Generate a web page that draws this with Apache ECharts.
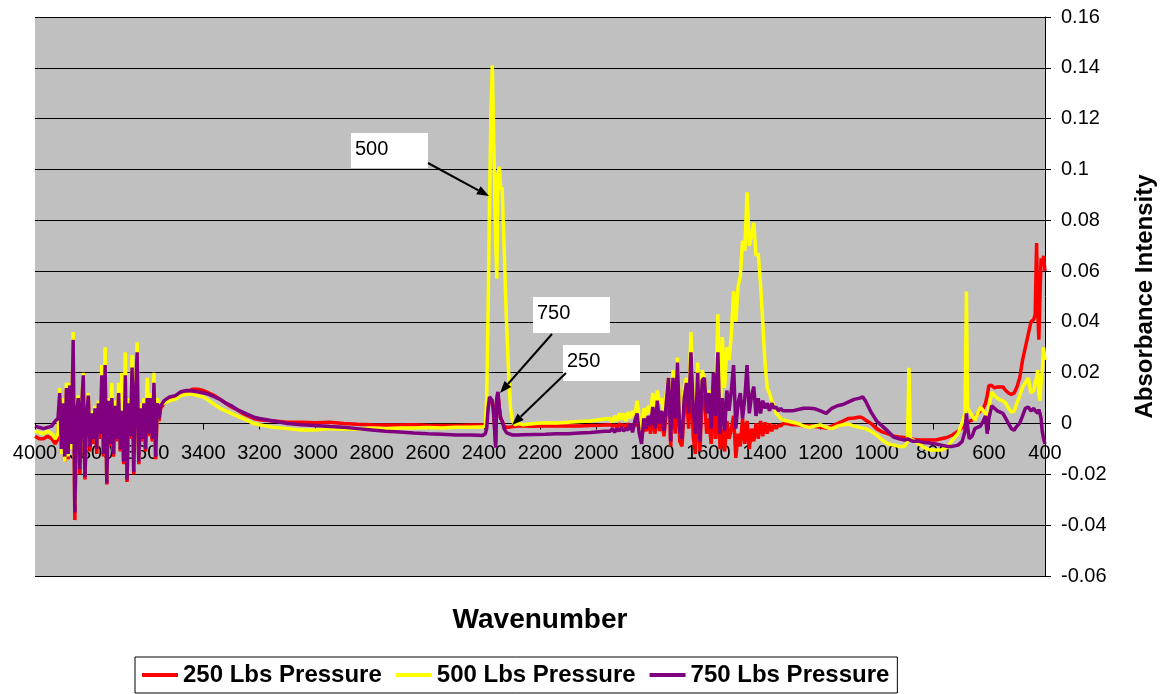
<!DOCTYPE html>
<html>
<head>
<meta charset="utf-8">
<script src="https://cdn.jsdelivr.net/npm/echarts@6/dist/echarts.min.js"></script>
<style>
html,body{margin:0;padding:0;background:#fff;}
#chart{width:1161px;height:694px;}
</style>
</head>
<body>
<div id="chart"></div>
<script>
// ---- Data (wavenumber grid, cm^-1, descending) ----
const wavenumbers = [
4000,3985,3970,3955,3940,3928,3918,
3912,3906,3900,3894,3888,3882,3876,3870,3864,3858,3852,3846,3840,3834,3828,3822,3816,3810,3804,3798,3792,3786,3780,3774,3768,3762,3756,3750,3744,3738,3732,3726,3720,3714,3708,3702,3696,3690,3684,3678,3672,3666,3660,3654,3648,3642,3636,3630,3624,3618,3612,3606,3600,3594,3588,3582,3576,3570,3564,3558,3552,
3540,3520,3500,3480,3460,3440,3420,3400,3380,3360,3340,3320,3300,3280,3260,3240,3220,3200,3150,3100,3050,3000,2950,2900,2850,2800,2750,2700,2650,2600,2550,2500,2450,2420,
2405,2395,2390,2385,2380,2375,2370,2366,2362,2358,2354,2350,2345,2340,2335,2328,2320,2312,2305,2298,2290,2280,
2260,2220,2180,2140,2100,2060,2020,1990,1970,
1950,1942,1934,1926,1918,1910,1902,1894,1886,1878,1870,1862,1854,1846,1838,1830,1822,1814,1806,1798,1790,1782,1774,1766,1758,1750,1742,1734,1726,1718,1710,1702,1694,1686,1678,1670,1662,1654,1646,1638,1630,1622,1614,1606,1598,1590,1582,1574,1566,1558,1550,1542,1534,1526,1518,1510,1502,1494,1486,1478,1470,1462,1454,1446,1438,1430,1422,1414,1406,1398,1390,1382,1374,1366,1358,1350,1342,1334,
1320,1300,1280,1260,1240,1220,1200,1180,1160,1140,1120,1100,1080,1060,1050,1040,1020,1000,980,960,940,920,900,890,885,880,870,850,830,810,790,770,750,730,710,695,685,680,676,670,660,650,640,630,620,612,606,600,590,580,570,560,550,540,530,520,510,500,490,480,470,460,450,440,435,430,426,422,418,414,410,405,400
];

const abs250 = [
-0.005,-0.006,-0.006,-0.005,-0.006,-0.008,-0.006,
0.011,-0.012,0.007,-0.015,0.013,-0.014,0.014,-0.010,0.032,-0.038,0.003,0.009,-0.020,0.005,0.018,-0.022,0.002,0.010,-0.011,0.003,-0.008,0.005,-0.012,0.007,-0.006,0.018,-0.013,0.022,-0.024,0.008,-0.009,0.009,-0.013,0.006,-0.007,0.011,-0.011,0.004,-0.016,0.018,-0.023,0.007,-0.006,0.021,-0.020,0.009,0.027,-0.016,0.005,-0.007,0.007,-0.011,0.009,-0.005,0.009,-0.007,0.015,-0.014,0.007,0.001,0.006,
0.008,0.0095,0.010,0.0115,0.0125,0.0135,0.0135,0.013,0.012,0.011,0.0095,0.008,0.0065,0.0055,0.004,0.003,0.002,0.0015,0.001,0.0005,0.0005,0.0003,0.0005,0.0,-0.0003,-0.0005,-0.0006,-0.0006,-0.0005,-0.0007,-0.0008,-0.0008,-0.0006,-0.0006,
-0.0006,-0.0005,0.0,0.006,0.010,0.0105,0.009,0.005,-0.001,-0.008,0.009,0.012,0.006,0.002,0.001,-0.001,-0.0015,-0.0015,-0.0015,-0.0012,-0.0012,-0.001,
-0.001,-0.0011,-0.001,-0.001,-0.001,-0.001,-0.0008,-0.0007,-0.0006,
-0.0005,-0.001,-0.0005,-0.0015,0.0,-0.001,-0.0005,-0.0015,0.0,-0.001,-0.0005,-0.001,0.002,-0.003,-0.006,0.0,-0.003,0.001,-0.004,0.003,-0.004,0.006,-0.003,0.002,-0.005,0.004,0.014,-0.009,0.014,-0.004,0.018,-0.007,-0.009,0.005,0.011,-0.002,0.022,-0.005,-0.012,0.014,-0.011,0.011,0.010,-0.004,0.002,-0.008,0.008,-0.006,0.010,-0.010,-0.002,-0.011,0.001,-0.006,-0.002,0.003,-0.0135,-0.004,-0.009,0.002,-0.008,0.001,-0.010,-0.002,-0.007,0.000,-0.006,0.001,-0.005,0.0005,-0.004,0.000,-0.003,-0.0005,-0.002,-0.0005,-0.001,0.000,
0.0,-0.0005,-0.0005,-0.001,-0.001,-0.0012,-0.0015,-0.0018,-0.001,0.0,0.001,0.002,0.0022,0.0026,0.0022,0.0014,0.0,-0.002,-0.0033,-0.004,-0.005,-0.0053,-0.0055,-0.006,-0.006,-0.006,-0.0062,-0.0065,-0.0065,-0.0065,-0.0065,-0.006,-0.0055,-0.0045,-0.003,-0.0015,-0.0005,0.0,0.0005,0.001,0.0014,0.002,0.004,0.005,0.006,0.008,0.011,0.015,0.015,0.014,0.0144,0.0144,0.0144,0.013,0.012,0.0115,0.012,0.0144,0.018,0.025,0.030,0.035,0.040,0.041,0.043,0.071,0.045,0.033,0.050,0.065,0.062,0.066,0.060
];

const abs500 = [
-0.003,-0.0035,-0.004,-0.003,-0.004,-0.006,-0.004,
0.014,-0.012,0.010,-0.015,0.016,-0.013,0.016,-0.010,0.036,-0.032,0.006,0.011,-0.017,0.007,0.020,-0.019,0.004,0.012,-0.008,0.005,-0.005,0.007,-0.009,0.009,-0.003,0.023,-0.011,0.030,-0.022,0.010,-0.007,0.016,-0.011,0.009,-0.005,0.016,-0.009,0.020,-0.014,0.028,-0.020,0.010,-0.004,0.027,-0.018,0.012,0.032,-0.014,0.008,-0.005,0.010,-0.009,0.018,-0.003,0.012,-0.005,0.020,-0.012,0.010,0.004,0.008,
0.008,0.009,0.0095,0.011,0.0115,0.0115,0.011,0.0105,0.009,0.0075,0.006,0.005,0.004,0.003,0.002,0.001,0.000,-0.0005,-0.0015,-0.002,-0.0025,-0.0025,-0.002,-0.0022,-0.0022,-0.0018,-0.002,-0.0018,-0.0018,-0.0016,-0.0018,-0.0015,-0.0015,-0.0014,
-0.0014,-0.001,0.010,0.045,0.085,0.122,0.141,0.118,0.095,0.072,0.057,0.098,0.101,0.092,0.093,0.070,0.042,0.020,0.006,0.001,-0.0005,0.0,
-0.0005,0.0,0.0003,0.0002,0.0005,0.0008,0.001,0.0015,0.0018,
0.002,0.0005,0.003,0.001,0.004,0.0015,0.004,0.001,0.0045,0.002,0.005,0.003,0.009,0.002,-0.004,0.006,0.003,0.007,0.004,0.012,0.003,0.013,0.008,0.010,0.003,0.012,0.018,-0.005,0.021,0.006,0.026,0.004,-0.002,0.014,0.018,0.008,0.036,0.010,0.000,0.024,-0.003,0.021,0.018,0.008,0.013,0.003,0.019,0.010,0.043,0.002,0.034,0.014,0.030,0.025,0.035,0.052,0.040,0.054,0.058,0.072,0.068,0.091,0.070,0.074,0.079,0.066,0.067,0.055,0.040,0.024,0.014,0.012,0.009,0.007,0.004,0.003,0.002,0.0015,
0.001,0.0005,0.0,-0.001,-0.0015,-0.001,-0.0005,-0.0015,-0.002,-0.001,-0.0005,-0.0002,-0.001,-0.0015,-0.0018,-0.002,-0.003,-0.0045,-0.0065,-0.008,-0.0085,-0.009,-0.009,-0.007,0.0219,-0.006,-0.0065,-0.008,-0.0095,-0.0104,-0.0104,-0.0104,-0.0095,-0.0065,-0.004,0.0005,0.004,0.052,0.0065,0.005,0.003,0.0014,0.004,0.0065,0.005,0.004,0.002,0.006,0.0124,0.011,0.010,0.0093,0.009,0.008,0.006,0.0045,0.005,0.008,0.011,0.0144,0.016,0.018,0.012,0.013,0.016,0.018,0.021,0.012,0.009,0.016,0.020,0.030,0.025
];

const abs750 = [
-0.001,-0.0015,-0.002,-0.0015,-0.001,0.001,0.002,
0.012,-0.010,0.008,-0.013,0.014,-0.012,0.015,-0.008,0.033,-0.035,0.004,0.010,-0.018,0.006,0.019,-0.021,0.003,0.011,-0.009,0.004,-0.006,0.006,-0.010,0.008,-0.004,0.019,-0.012,0.023,-0.0235,0.009,-0.008,0.010,-0.012,0.007,-0.006,0.012,-0.010,0.005,-0.015,0.019,-0.022,0.008,-0.005,0.022,-0.019,0.010,0.028,-0.015,0.006,-0.006,0.008,-0.010,0.010,-0.004,0.010,-0.006,0.016,-0.013,0.008,0.002,0.007,
0.009,0.0105,0.011,0.0125,0.013,0.0128,0.0125,0.012,0.0115,0.0105,0.0095,0.008,0.007,0.0055,0.0045,0.0035,0.0025,0.002,0.001,0.0,-0.0005,-0.0008,-0.0012,-0.0015,-0.002,-0.0025,-0.003,-0.0033,-0.0037,-0.004,-0.0042,-0.0045,-0.0045,-0.0046,
-0.0047,-0.004,-0.002,0.006,0.0105,0.011,0.009,0.005,-0.002,-0.0095,0.010,0.0125,0.006,0.002,0.001,-0.002,-0.0035,-0.004,-0.0045,-0.0045,-0.0045,-0.0045,
-0.0044,-0.0043,-0.0042,-0.004,-0.004,-0.0037,-0.0035,-0.0032,-0.003,
-0.003,-0.002,-0.0035,-0.002,-0.003,-0.0015,-0.003,-0.002,-0.0025,0.000,-0.0035,0.001,0.004,-0.004,-0.008,0.002,-0.002,0.003,-0.001,0.0065,-0.002,0.009,0.0,0.005,-0.003,0.008,0.018,-0.007,0.018,0.002,0.024,-0.003,-0.006,0.010,0.016,0.004,0.028,0.006,-0.004,0.020,-0.007,0.017,0.018,0.004,0.012,-0.002,0.020,0.003,0.028,-0.004,0.010,-0.003,0.013,0.005,0.013,0.023,-0.002,0.008,0.012,0.002,0.010,0.023,0.004,0.011,0.0145,0.003,0.010,0.004,0.009,0.006,0.008,0.005,0.008,0.006,0.0065,0.005,0.006,0.005,
0.005,0.005,0.0055,0.006,0.006,0.0058,0.005,0.004,0.006,0.007,0.0075,0.0085,0.0095,0.010,0.0105,0.009,0.0045,0.001,-0.001,-0.003,-0.0053,-0.006,-0.0065,-0.006,-0.0055,-0.0065,-0.007,-0.007,-0.0075,-0.0077,-0.008,-0.0085,-0.009,-0.009,-0.0085,-0.007,-0.003,0.004,-0.001,-0.006,-0.005,-0.002,-0.0015,-0.001,0.001,0.003,-0.004,0.002,0.007,0.006,0.005,0.0045,0.004,0.002,0.0,-0.002,-0.0026,-0.001,0.0002,0.003,0.006,0.0065,0.005,0.006,0.005,0.005,0.004,0.0055,0.004,0.002,-0.003,-0.006,-0.008
];

const seriesNames = ['250 Lbs Pressure', '500 Lbs Pressure', '750 Lbs Pressure'];
const seriesColors = ['#FF0000', '#FFFF00', '#800080'];
const xTicks = { min: 400, max: 4000, step: 200 };
const yTicks = { min: -0.06, max: 0.16, step: 0.02 };
const annotationLabels = ['500', '750', '250'];

const FONT = 'Arial, "Liberation Sans", Helvetica, sans-serif';
const chart = echarts.init(document.getElementById('chart'), null, { renderer: 'canvas' });

const allSeries = [abs250, abs500, abs750].map((vals, k) => ({
  name: seriesNames[k],
  type: 'line',
  data: wavenumbers.map((w, i) => [w, vals[i]]),
  showSymbol: false,
  symbol: 'none',
  lineStyle: { width: 3.5, color: seriesColors[k] },
  itemStyle: { color: seriesColors[k] },
  z: 2 + k
}));

// annotation boxes + arrows (layout in pixels)
const boxes = [
  { text: annotationLabels[0], x: 351, y: 133, w: 77, h: 35, from: [428, 163], to: [489, 196] },
  { text: annotationLabels[1], x: 533, y: 297, w: 77, h: 36, from: [552, 334], to: [500, 393] },
  { text: annotationLabels[2], x: 563, y: 345, w: 77, h: 36, from: [566, 373], to: [512, 425] }
];
const graphics = [];
boxes.forEach(b => {
  graphics.push({ type: 'rect', shape: { x: b.x, y: b.y, width: b.w, height: b.h }, style: { fill: '#fff' }, z: 100 });
  graphics.push({ type: 'text', x: b.x + 4, y: b.y + 16, style: { text: b.text, font: '20px ' + FONT, fill: '#000', textVerticalAlign: 'middle', verticalAlign: 'middle' }, z: 101 });
  const [x1, y1] = b.from, [x2, y2] = b.to;
  const dx = x2 - x1, dy = y2 - y1, len = Math.sqrt(dx * dx + dy * dy);
  const ux = dx / len, uy = dy / len;
  const hl = 12, hw = 4.5;
  const bx = x2 - ux * hl, by = y2 - uy * hl;
  graphics.push({ type: 'line', shape: { x1: x1, y1: y1, x2: bx, y2: by }, style: { stroke: '#000', lineWidth: 2 }, z: 101 });
  graphics.push({ type: 'polygon', shape: { points: [[x2, y2], [bx - uy * hw, by + ux * hw], [bx + uy * hw, by - ux * hw]] }, style: { fill: '#000' }, z: 101 });
});
graphics.push({ type: 'text', x: 540, y: 620, style: { text: 'Wavenumber', font: 'bold 28px ' + FONT, fill: '#000', textAlign: 'center', align: 'center', textVerticalAlign: 'middle', verticalAlign: 'middle' }, z: 10 });

chart.setOption({
  animation: false,
  backgroundColor: '#fff',
  textStyle: { fontFamily: FONT },
  grid: { left: 35, right: 116, top: 17, bottom: 118, show: true, backgroundColor: '#C0C0C0', borderWidth: 0, containLabel: false, outerBoundsMode: 'none' },
  legend: {
    data: seriesNames,
    left: 135, top: 657,
    padding: [6, 8, 6, 7],
    itemGap: 14,
    itemWidth: 36, itemHeight: 4,
    icon: 'rect',
    borderColor: '#000', borderWidth: 1,
    backgroundColor: '#fff',
    textStyle: { fontSize: 24, fontWeight: 'bold', color: '#000', fontFamily: FONT }
  },
  xAxis: {
    type: 'value', inverse: true,
    min: xTicks.min, max: xTicks.max, interval: xTicks.step,
    offset: 0,
    axisLine: { show: true, onZero: false, lineStyle: { color: '#000', width: 1 } },
    axisTick: { show: true, length: 6, lineStyle: { color: '#000' } },
    axisLabel: { fontSize: 20, color: '#000', margin: 20, fontFamily: FONT, hideOverlap: false, formatter: v => String(v) },
    splitLine: { show: false }
  },
  yAxis: {
    type: 'value', position: 'right',
    min: yTicks.min, max: yTicks.max, interval: yTicks.step,
    axisLine: { show: true, onZero: false, lineStyle: { color: '#000', width: 1 } },
    axisTick: { show: true, length: 6, lineStyle: { color: '#000' } },
    axisLabel: { fontSize: 20, color: '#000', margin: 16, fontFamily: FONT },
    splitLine: { show: true, lineStyle: { color: '#000', width: 1 } },
    name: 'Absorbance Intensity', nameLocation: 'middle', nameGap: 88, nameRotate: 90,
    nameTextStyle: { fontSize: 24, fontWeight: 'bold', color: '#000', fontFamily: FONT }
  },
  series: allSeries,
  graphic: graphics
});

// move the x axis (line, ticks, labels) up to the y = 0 line
const zeroY = chart.convertToPixel({ yAxisIndex: 0 }, 0);
const bottomY = chart.convertToPixel({ yAxisIndex: 0 }, yTicks.min);
chart.setOption({ xAxis: { offset: zeroY - bottomY } });
</script>
</body>
</html>
